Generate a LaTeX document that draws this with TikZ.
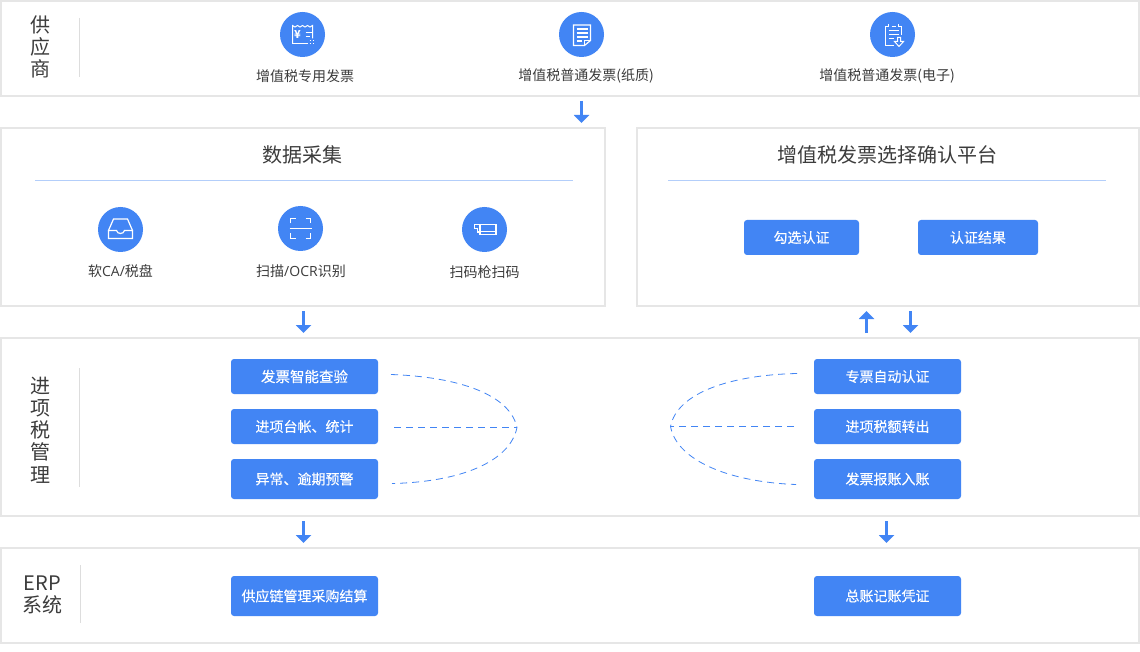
\documentclass[tikz,border=0pt]{standalone}
\usepackage{fontspec}
\setmainfont{Noto Sans CJK SC}
\newfontfamily\lat{Open Sans}
\newfontfamily\btnfont[FakeBold=0.2]{Noto Sans CJK SC}
\usetikzlibrary{arrows.meta}
\definecolor{blu}{HTML}{4285F4}
\definecolor{lanegrey}{HTML}{E6E6E6}
\definecolor{txt}{HTML}{3C3C3C}
\definecolor{rulec}{HTML}{B3CEFA}
\definecolor{sep}{HTML}{DDDDDD}
\tikzset{
 lane/.style={draw=lanegrey,line width=2pt,fill=white,outer sep=0pt,inner sep=0pt,anchor=north west},
 title/.style={text=txt,font=\fontsize{20}{20}\selectfont,inner sep=0pt},
 side/.style={text=txt,font=\fontsize{20}{22.2}\selectfont,inner sep=0pt,align=center},
 lab/.style={text=txt,font=\fontsize{14}{14}\selectfont,inner sep=0pt},
 btn/.style={fill=blu,rounded corners=3pt,text=white,font=\btnfont\fontsize{14}{14}\selectfont,inner sep=0pt,minimum width=147pt},
 disc/.style={circle,fill=blu,minimum size=45pt,inner sep=0pt},
 flow/.style={draw=blu,line width=3pt,-{Triangle[length=8pt,width=15pt,fill=blu]},shorten >=0pt},
 dashline/.style={draw=blu,line width=.8pt,dash pattern=on 7pt off 5pt},
 ico/.style={draw=white,line width=1.2pt},
}
\begin{document}
\begin{tikzpicture}[x=1pt,y=-1pt]
\useasboundingbox (0,0) rectangle (1140,652);
\fill[white] (0,0) rectangle (1140,652);
% lanes
\node[lane,minimum width=1138pt,minimum height=95pt] (l1) at (1,1) {};
\node[lane,minimum width=604pt,minimum height=178pt] (l2a) at (1,128) {};
\node[lane,minimum width=502pt,minimum height=178pt] (l2b) at (637,128) {};
\node[lane,minimum width=1138pt,minimum height=178pt] (l3) at (1,338) {};
\node[lane,minimum width=1138pt,minimum height=95pt] (l4) at (1,548) {};
% side titles
\node[side] (s1) at (40.5,47) {供\\应\\商};
\node[side] (s3) at (40.5,430) {进\\项\\税\\管\\理};
\node[side] (s4) at (42.5,595) {ERP\\系统};
\coordinate (r1a) at (79.5,18); \coordinate (r1b) at (79.5,77);
\coordinate (r3a) at (79.5,368); \coordinate (r3b) at (79.5,487);
\coordinate (r4a) at (80.5,565); \coordinate (r4b) at (80.5,623);
\draw[sep] (r1a)--(r1b) (r3a)--(r3b) (r4a)--(r4b);
% top row
\node[disc] (d1) at (302.5,34.5) {};
\node[disc] (d2) at (581.5,34.5) {};
\node[disc] (d3) at (892.5,34.5) {};
\node[lab] (t1) at (305,76) {增值税专用发票};
\node[lab] (t2) at (586,76) {增值税普通发票(纸质)};
\node[lab] (t3) at (887,76) {增值税普通发票(电子)};
% icon 1 ticket
\begin{scope}[shift={(d1.center)}]
\draw[ico,line width=1pt] (-10,9.5) -- (-10,-9) .. controls (-8,-7) and (-7,-7) .. (-5,-9) .. controls (-3,-7) and (-2,-7) .. (0,-9) .. controls (2,-7) and (3,-7) .. (5,-9) .. controls (7,-7) and (8,-7) .. (10,-9) -- (10,4);
\draw[ico,line width=1pt] (-10,9.5) -- (5,9.5);
\draw[ico,line width=1pt,dash pattern=on 1.5pt off 1.5pt] (7,9.5)--(12,9.5) (7,6.5)--(12,6.5);
\node[text=white,font=\fontsize{11}{11}\selectfont\bfseries,inner sep=0pt] (yen) at (-5,0) {¥};
\draw[ico,line width=1pt] (3,-2)--(9,-2) (3,2)--(7,2);
\end{scope}
% icon 2 document
\begin{scope}[shift={(d2.center)}]
\draw[ico] (-8,-9.5) -- (9,-9.5) -- (9,6) -- (3,11) -- (-8,11) -- cycle;
\draw[ico] (9,6) -- (3,6) -- (3,11);
\draw[ico] (-5,-5.5)--(6,-5.5) (-5,-1.5)--(6,-1.5) (-5,2.5)--(6,2.5) (-5,6.5)--(0,6.5);
\end{scope}
% icon 3 document download
\begin{scope}[shift={(d3.center)}]
\draw[ico,line width=1pt] (1,11) -- (-7,11) -- (-7,-8) -- (-4,-8) (-1,-8) -- (3,-8) (6,-8) -- (9,-8) -- (9,1);
\draw[ico,line width=1pt] (-4,-10)--(-4,-7) (6,-10)--(6,-7);
\draw[ico,line width=1pt] (-4,-4)--(6,-4) (-4,0)--(6,0) (-4,4)--(1,4);
\draw[ico,line width=1pt] (5,3) -- (8,3) -- (8,7) -- (11,7) -- (6.5,12) -- (2,7) -- (5,7) -- cycle;
\end{scope}
% data collection
\node[title] (h1) at (302.5,155) {数据采集};
\coordinate (h1a) at (35,180.5); \coordinate (h1b) at (573,180.5);
\draw[rulec] (h1a)--(h1b);
\node[disc] (d4) at (120.5,229.5) {};
\node[disc] (d5) at (300.5,228.5) {};
\node[disc] (d6) at (484.5,229.5) {};
\node[lab] (t4) at (120.5,271) {软{\lat CA/}税盘};
\node[lab] (t5) at (301,271) {扫描{\lat /OCR}识别};
\node[lab] (t6) at (484.5,272) {扫码枪扫码};
% icon 4 tray
\begin{scope}[shift={(d4.center)}]
\draw[ico] (-12,1) -- (-7,-10.5) -- (7,-10.5) -- (12,1);
\draw[ico] (-12,1) -- (-4,1) .. controls (-3,5) and (3,5) .. (4,1) -- (12,1) -- (12,9) -- (-12,9) -- cycle;
\end{scope}
% icon 5 scan
\begin{scope}[shift={(d5.center)}]
\draw[ico] (-10,-5) -- (-10,-10) -- (-5,-10) (5,-10) -- (10,-10) -- (10,-5) (-10,5) -- (-10,10) -- (-5,10) (5,10) -- (10,10) -- (10,5);
\draw[ico] (-11,0) -- (11,0);
\end{scope}
% icon 6 scanner gun
\begin{scope}[shift={(d6.center)}]
\draw[ico] (-4.5,-5) -- (11.5,-5) -- (11.5,5) -- (-4.5,5) -- (-4.5,2.5) -- (-7,2.5) -- (-7,-1) -- (-10,-1) -- (-10,-5) -- cycle;
\draw[ico] (-4.5,-5) -- (-4.5,2) -- (11.5,2);
\end{scope}
% confirm platform
\node[title] (h2) at (887.5,155) {增值税发票选择确认平台};
\coordinate (h2a) at (668,180.5); \coordinate (h2b) at (1106,180.5);
\draw[rulec] (h2a)--(h2b);
\node[btn,minimum width=115pt,minimum height=35pt] (b1) at (801.5,237.5) {勾选认证};
\node[btn,minimum width=120pt,minimum height=35pt] (b2) at (978,237.5) {认证结果};
% middle buttons
\node[btn,minimum height=35pt,font=\btnfont\fontsize{14.5}{14.5}\selectfont] (m1) at (304.5,376.5) {发票智能查验};
\node[btn,minimum height=35pt] (m2) at (304.5,426.5) {进项台帐、统计};
\node[btn,minimum height=40pt] (m3) at (304.5,479) {异常、逾期预警};
\node[btn,minimum height=35pt] (m4) at (887.5,376.5) {专票自动认证};
\node[btn,minimum height=35pt] (m5) at (887.5,426.5) {进项税额转出};
\node[btn,minimum height=40pt] (m6) at (887.5,479) {发票报账入账};
\node[btn,minimum height=40pt] (e1) at (304.5,596) {供应链管理采购结算};
\node[btn,minimum height=40pt] (e2) at (887.5,596) {总账记账凭证};
% dashed brackets
\coordinate (la) at (391,374.5); \coordinate (lb) at (394,427.5); \coordinate (lc) at (392,483.5); \coordinate (lv) at (517,427.5);
\coordinate (ra) at (797,373.5); \coordinate (rb) at (794,426.5); \coordinate (rc) at (796,484.5); \coordinate (rv) at (670.5,426.5);
\draw[dashline] (la) .. controls (460,377) and (510,395) .. (lv) .. controls (510,462) and (460,482) .. (lc);
\draw[dashline] (lb) -- (lv);
\draw[dashline] (ra) .. controls (730,375) and (677,393) .. (rv) .. controls (677,461) and (730,482) .. (rc);
\draw[dashline] (rb) -- (rv);
% arrows
\coordinate (a1s) at (581.5,101); \coordinate (a1e) at (581.5,123);
\coordinate (a2s) at (303.5,311); \coordinate (a2e) at (303.5,333);
\coordinate (a3s) at (866.5,333); \coordinate (a3e) at (866.5,311);
\coordinate (a4s) at (910.5,311); \coordinate (a4e) at (910.5,333);
\coordinate (a5s) at (303.5,521); \coordinate (a5e) at (303.5,543);
\coordinate (a6s) at (886.5,521); \coordinate (a6e) at (886.5,543);
\draw[flow] (a1s)--(a1e);
\draw[flow] (a2s)--(a2e);
\draw[flow] (a3s)--(a3e);
\draw[flow] (a4s)--(a4e);
\draw[flow] (a5s)--(a5e);
\draw[flow] (a6s)--(a6e);
\end{tikzpicture}
\end{document}
